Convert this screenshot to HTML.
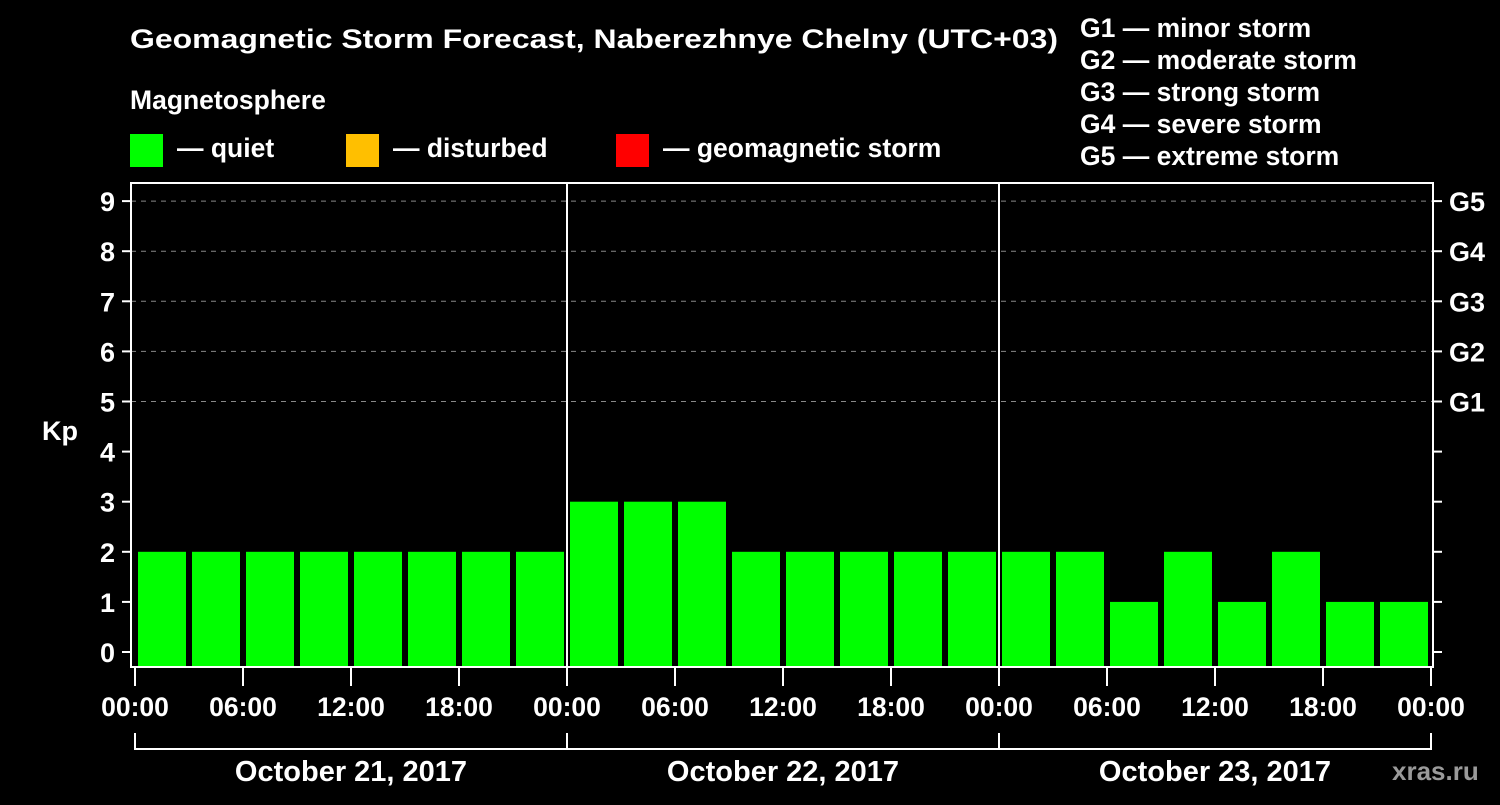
<!DOCTYPE html>
<html><head><meta charset="utf-8"><style>
body{margin:0;background:#000;width:1500px;height:800px;overflow:hidden}
svg text{font-family:"Liberation Sans",sans-serif;font-weight:bold;fill:#fff}
</style></head><body>
<svg id="c" width="1500" height="800">
<text x="130" y="48" font-size="27" textLength="928" lengthAdjust="spacingAndGlyphs">Geomagnetic Storm Forecast, Naberezhnye Chelny (UTC+03)</text>
<text x="130" y="109" font-size="26.5">Magnetosphere</text>
<rect x="130" y="134" width="33" height="33" fill="#00ff00"/>
<text x="177" y="157" font-size="26.5">— quiet</text>
<rect x="346" y="134" width="33" height="33" fill="#ffbf00"/>
<text x="393" y="157" font-size="26.5">— disturbed</text>
<rect x="616" y="134" width="33" height="33" fill="#ff0000"/>
<text x="663" y="157" font-size="26.5">— geomagnetic storm</text>
<g font-size="26.5">
<text x="1080" y="37">G1 — minor storm</text>
<text x="1080" y="69">G2 — moderate storm</text>
<text x="1080" y="101">G3 — strong storm</text>
<text x="1080" y="133">G4 — severe storm</text>
<text x="1080" y="165">G5 — extreme storm</text>
</g>
<text x="42" y="440" font-size="27">Kp</text>
<text x="1392" y="780" font-size="26" style="fill:#9a9a9a">xras.ru</text>
<g id="plot"></g>
</svg>
<script>
const kpValues=[2,2,2,2,2,2,2,2,3,3,3,2,2,2,2,2,2,2,1,2,1,2,1,1];
const dayLabels=["October 21, 2017","October 22, 2017","October 23, 2017"];
const timeLabels=["00:00","06:00","12:00","18:00"];
const gLabels=["G1","G2","G3","G4","G5"];
const NS="http://www.w3.org/2000/svg";
const g=document.getElementById('plot');
const L=131,R=1433,T=183,B=667,X0=135,dayW=432;
const y=v=>652-v*50.1;
const x=h=>X0+h/24*dayW;
function mk(t,a){const e=document.createElementNS(NS,t);for(const k in a)e.setAttribute(k,a[k]);g.appendChild(e);return e;}
for(let v=0;v<=9;v++){
 if(v>=5){const l=mk('line',{x1:L,x2:R,y1:y(v),y2:y(v),stroke:'#888','stroke-dasharray':'5,5','stroke-width':1});
 
 }
 const t1=mk('line',{x1:122,x2:L,y1:y(v),y2:y(v),stroke:'#fff','stroke-width':2});
 
 
 const t2=mk('line',{x1:R,x2:1442,y1:y(v),y2:y(v),stroke:'#fff','stroke-width':2});
 
 
 const tx=mk('text',{x:115,y:y(v)+10,'font-size':27,'text-anchor':'end'});tx.textContent=v;
 
 
}
gLabels.forEach((s,i)=>{const tx=mk('text',{x:1449,y:y(5+i)+10,'font-size':27});tx.textContent=s;
 
 });
const cs=v=>v>=5?'#ff0000':v>=4?'#ffbf00':'#00ff00';
kpValues.forEach((v,i)=>{const b=mk('rect',{x:x(i*3)+3,y:y(v),width:48,height:B-y(v),fill:cs(v)});
 
 });
[1,2].forEach(d=>{const l=mk('line',{x1:x(d*24),x2:x(d*24),y1:T,y2:B,stroke:'#fff','stroke-width':2});
 
 });
const f=mk('rect',{x:L,y:T,width:R-L,height:B-T,fill:'none',stroke:'#fff','stroke-width':2});


for(let k=0;k<=12;k++){const xx=x(k*6);
 const t=mk('line',{x1:xx,x2:xx,y1:B,y2:686,stroke:'#fff','stroke-width':2});
 
 
 const tx=mk('text',{x:xx,y:716,'font-size':26.5,'text-anchor':'middle'});tx.textContent=timeLabels[k%4];
 
 }
const br=mk('line',{x1:x(0),x2:x(72),y1:749,y2:749,stroke:'#fff','stroke-width':2});


for(let d=0;d<=3;d++){const l=mk('line',{x1:x(d*24),x2:x(d*24),y1:733,y2:750,stroke:'#fff','stroke-width':2});
 
 }
dayLabels.forEach((s,d)=>{const tx=mk('text',{x:x(d*24+12),y:781,'font-size':29,'text-anchor':'middle'});tx.textContent=s;
 
 });
</script>
</body></html>
